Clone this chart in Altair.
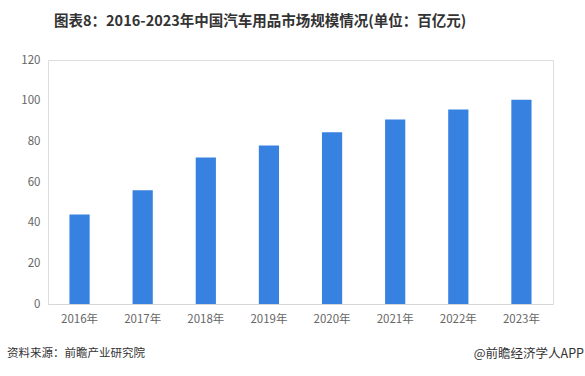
import altair as alt
import pandas as pd

years = ["2016年", "2017年", "2018年", "2019年", "2020年", "2021年", "2022年", "2023年"]
values = [44.0, 56.0, 72.0, 78.0, 84.5, 90.7, 95.6, 100.5]

title_text = "图表8：2016-2023年中国汽车用品市场规模情况(单位：百亿元)"
source_text = "资料来源：前瞻产业研究院"
brand_text = "@前瞻经济学人APP"

df = pd.DataFrame({"year": years, "value": values})
FONT = "Noto Sans CJK SC"

bars = alt.Chart(df).mark_bar(color="#3781E0").encode(
    x=alt.X("year:N", sort=years, title=None,
            scale=alt.Scale(paddingInner=0.68, paddingOuter=0.34),
            axis=alt.Axis(labelAngle=0, labelColor="#666666", labelFontSize=11.5,
                          labelFont=FONT, ticks=False, domainColor="#d6d6d6",
                          labelPadding=9)),
    y=alt.Y("value:Q", title=None,
            scale=alt.Scale(domain=[0, 120]),
            axis=alt.Axis(values=[0, 20, 40, 60, 80, 100, 120], grid=False, domain=False,
                          ticks=False, labelColor="#666666", labelFontSize=11.5,
                          labelFont=FONT, labelPadding=8)),
)

title = alt.Chart(pd.DataFrame({"t": [title_text]})).mark_text(
    align="left", baseline="middle", fontSize=14.5, fontWeight="bold",
    font=FONT, color="#333333").encode(
    text="t:N", x=alt.value(6), y=alt.value(-38))

source = alt.Chart(pd.DataFrame({"t": [source_text]})).mark_text(
    align="left", baseline="middle", fontSize=11.5, font=FONT, color="#333333").encode(
    text="t:N", x=alt.value(-41), y=alt.value(294))

brand = alt.Chart(pd.DataFrame({"t": [brand_text]})).mark_text(
    align="right", baseline="middle", fontSize=12.5, font=FONT, color="#333333").encode(
    text="t:N", x=alt.value(536), y=alt.value(294))

chart = alt.layer(bars, title, source, brand).properties(
    width=505, height=244,
    autosize=alt.AutoSizeParams(type="none"),
    padding={"left": 48, "top": 60, "right": 32, "bottom": 72},
).configure_view(stroke=None).configure(background="white")

chart.save("out.html", embed_options={"renderer": "svg", "actions": False})
